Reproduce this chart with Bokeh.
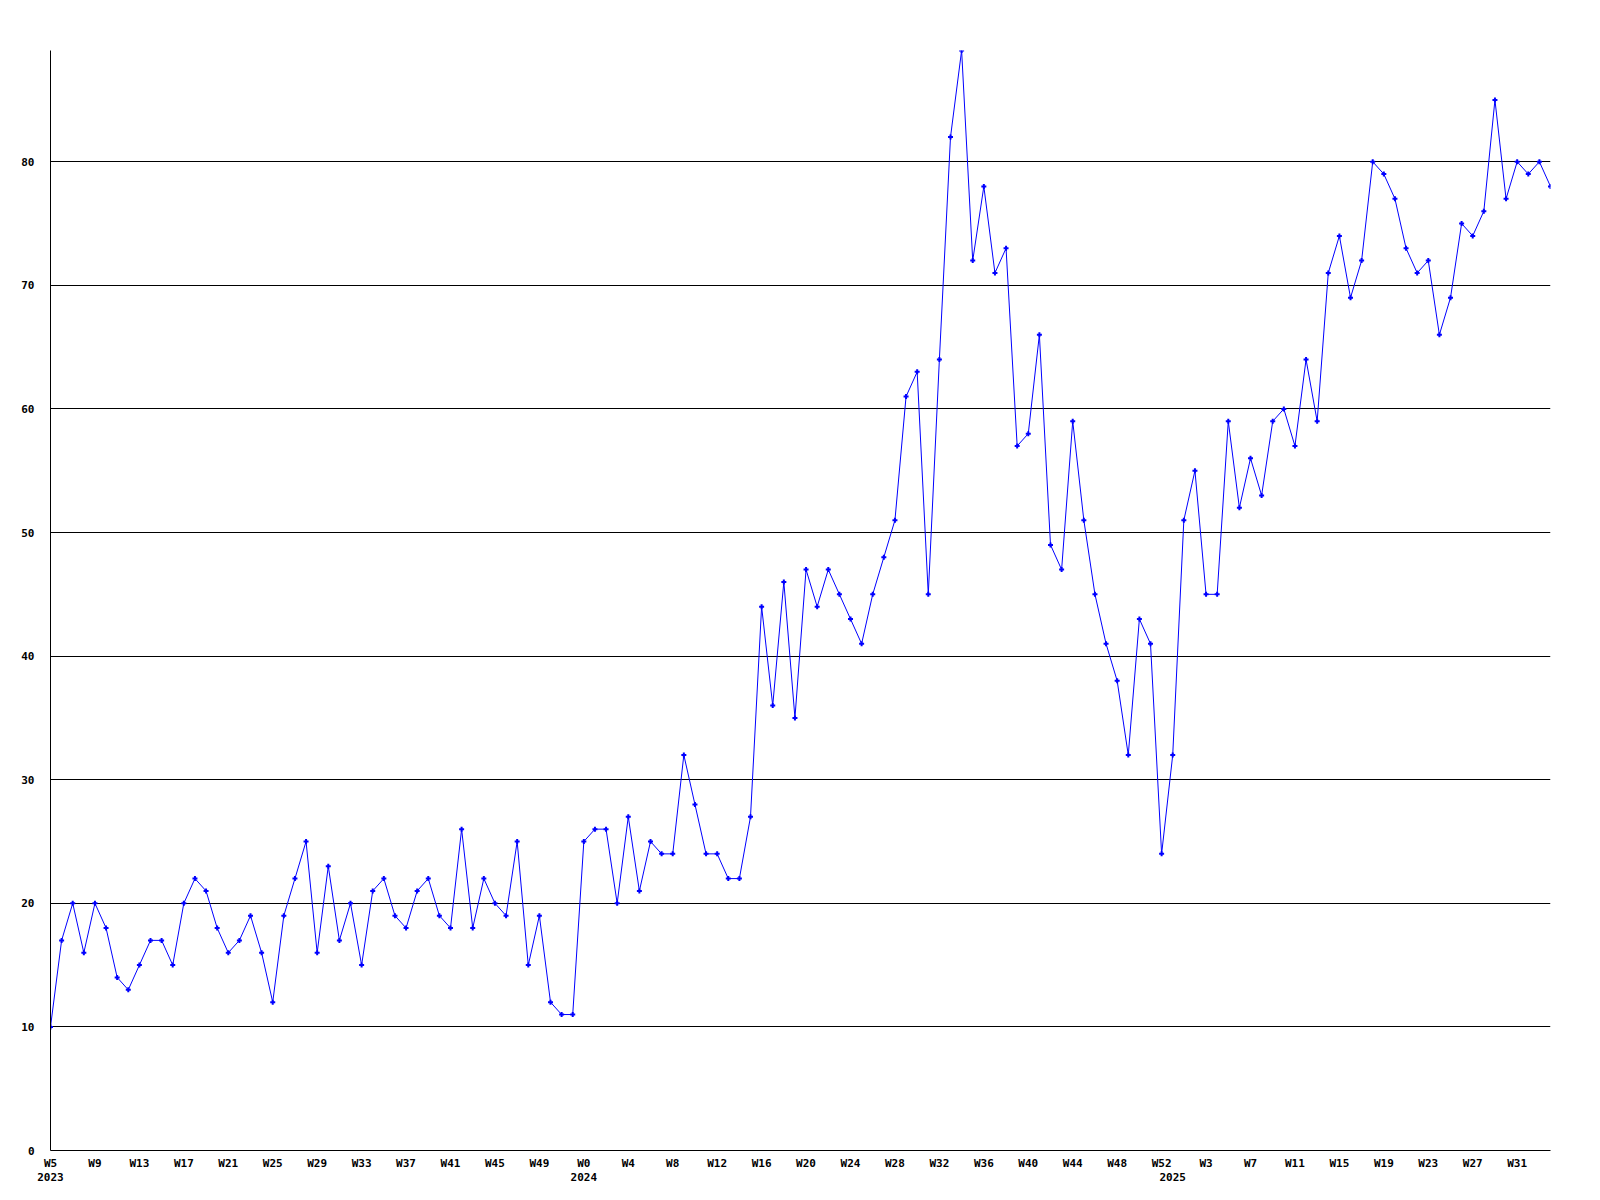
from bokeh.plotting import figure
from bokeh.models import FixedTicker, LinearAxis, Range1d
from bokeh.embed import file_html
from bokeh.resources import INLINE

# ---- data ----
years = ["2023", "2024", "2025"]
weeks_2023 = list(range(5, 53))
weeks_2024 = list(range(0, 53))
weeks_2025 = list(range(0, 35))

values_2023 = [10, 17, 20, 16, 20, 18, 14, 13, 15, 17,
               17, 15, 20, 22, 21, 18, 16, 17, 19, 16,
               12, 19, 22, 25, 16, 23, 17, 20, 15, 21,
               22, 19, 18, 21, 22, 19, 18, 26, 18, 22,
               20, 19, 25, 15, 19, 12, 11, 11]
values_2024 = [25, 26, 26, 20, 27, 21, 25, 24, 24, 32,
               28, 24, 24, 22, 22, 27, 44, 36, 46, 35,
               47, 44, 47, 45, 43, 41, 45, 48, 51, 61,
               63, 45, 64, 82, 89, 72, 78, 71, 73, 57,
               58, 66, 49, 47, 59, 51, 45, 41, 38, 32,
               43, 41, 24]
values_2025 = [32, 51, 55, 45, 45, 59, 52, 56, 53, 59,
               60, 57, 64, 59, 71, 74, 69, 72, 80, 79,
               77, 73, 71, 72, 66, 69, 75, 74, 76, 85,
               77, 80, 79, 80, 78]
y_ticks = [0, 10, 20, 30, 40, 50, 60, 70, 80]

# ---- build series ----
weeks = weeks_2023 + weeks_2024 + weeks_2025
values = values_2023 + values_2024 + values_2025
year_of = [years[0]] * len(weeks_2023) + [years[1]] * len(weeks_2024) + [years[2]] * len(weeks_2025)
xs = list(range(len(values)))

week_ticks = xs[::4][:34]
week_labels = {i: "W%d" % weeks[i] for i in week_ticks}
year_ticks = [year_of.index(y) for y in years]
year_labels = {i: year_of[i] for i in year_ticks}

FONT = "DejaVu Sans Mono"

p = figure(frame_width=1500, frame_height=1100,
           x_range=Range1d(0, len(values) - 1), y_range=Range1d(0, max(values)),
           output_backend="svg", toolbar_location=None,
           min_border_left=50, min_border_top=50, min_border_right=30, min_border_bottom=20)
p.outline_line_color = None
p.background_fill_color = "white"
p.border_fill_color = "white"

# grid
p.xgrid.visible = False
p.ygrid.ticker = FixedTicker(ticks=y_ticks)
p.ygrid.grid_line_color = "black"
p.ygrid.grid_line_width = 1

# y axis
p.yaxis.ticker = FixedTicker(ticks=y_ticks)
p.yaxis.axis_line_color = "black"
p.yaxis.major_tick_out = 0
p.yaxis.major_tick_in = 0
p.yaxis.minor_tick_line_color = None
p.yaxis.major_label_standoff = 16
p.yaxis.major_label_text_font = FONT
p.yaxis.major_label_text_font_style = "bold"
p.yaxis.major_label_text_font_size = "11px"
p.yaxis.major_label_text_color = "black"

# x axis: weeks
p.xaxis.ticker = FixedTicker(ticks=week_ticks)
p.xaxis.major_label_overrides = week_labels
p.xaxis.axis_line_color = "black"
p.xaxis.major_tick_out = 0
p.xaxis.major_tick_in = 0
p.xaxis.minor_tick_line_color = None
p.xaxis.major_label_standoff = 6
p.xaxis.major_label_text_font = FONT
p.xaxis.major_label_text_font_style = "bold"
p.xaxis.major_label_text_font_size = "11px"
p.xaxis.major_label_text_color = "black"

# x axis: years
year_axis = LinearAxis(ticker=FixedTicker(ticks=year_ticks),
                       major_label_overrides=year_labels,
                       axis_line_color=None, major_tick_line_color=None,
                       minor_tick_line_color=None, major_tick_out=0, major_tick_in=0,
                       major_label_standoff=0,
                       major_label_text_font=FONT, major_label_text_font_style="bold",
                       major_label_text_font_size="11px", major_label_text_color="black")
p.add_layout(year_axis, "below")

# data
p.line(xs, values, line_color="#0000ff", line_width=1)
p.scatter(xs, values, marker="cross", size=5, line_color="#0000ff", line_width=2)

open("out.html", "w").write(file_html(p, INLINE))
